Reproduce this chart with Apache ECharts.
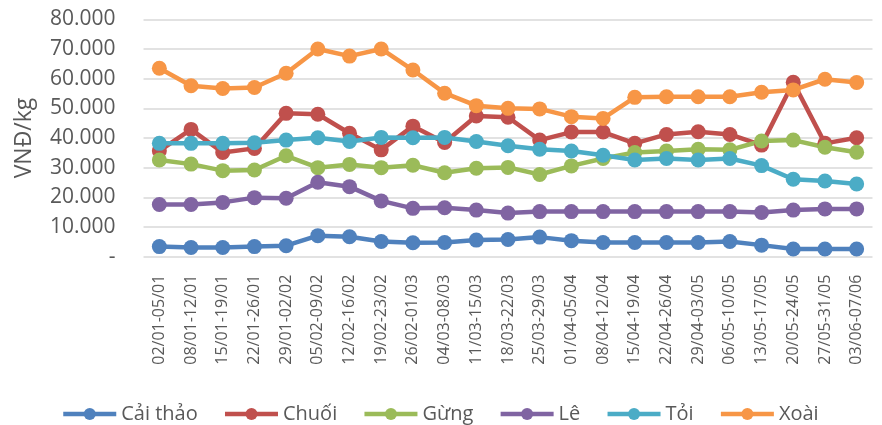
<!DOCTYPE html>
<html>
<head>
<meta charset="utf-8">
<script src="https://cdn.jsdelivr.net/npm/echarts@6/dist/echarts.min.js"></script>
<style>html,body{margin:0;padding:0;background:#fff}#c{width:882px;height:425px}</style>
</head>
<body>
<div id="c"></div>
<script>
const categories = ['02/01-05/01','08/01-12/01','15/01-19/01','22/01-26/01','29/01-02/02','05/02-09/02','12/02-16/02','19/02-23/02','26/02-01/03','04/03-08/03','11/03-15/03','18/03-22/03','25/03-29/03','01/04-05/04','08/04-12/04','15/04-19/04','22/04-26/04','29/04-03/05','06/05-10/05','13/05-17/05','20/05-24/05','27/05-31/05','03/06-07/06'];
const caiThao = [3400,3100,3100,3400,3700,7100,6700,5100,4700,4800,5600,5800,6600,5400,4800,4800,4800,4800,5100,3900,2600,2600,2600];
const chuoi = [35700,42900,35100,36500,48300,48000,41600,36000,44000,38500,47400,47000,39300,42000,42000,38200,41200,42100,41200,37600,58800,38200,40100];
const gung = [32600,31200,29000,29200,34000,30000,31100,30000,30800,28300,29800,30100,27700,30600,33100,35100,35600,36200,36000,39000,39300,36900,35200];
const le = [17600,17600,18300,19900,19700,25100,23600,18800,16300,16500,15700,14700,15200,15200,15200,15200,15200,15200,15200,14900,15700,16100,16100];
const toi = [38200,38200,38200,38400,39300,40100,38800,40200,40100,40200,38800,37400,36200,35600,34200,32600,33100,32600,33100,30700,26100,25500,24500];
const xoai = [63500,57600,56700,57000,61800,70000,67600,70000,62900,55100,50900,50000,49800,47200,46600,53700,53900,53900,53900,55400,56200,59800,58700];
const seriesNames = ['Cải thảo','Chuối','Gừng','Lê','Tỏi','Xoài'];
const seriesData = [caiThao, chuoi, gung, le, toi, xoai];
const colors = ['#4F81BD','#C0504D','#9BBB59','#8064A2','#4BACC6','#F79646'];
const yTicks = {min: 0, max: 80000, interval: 10000};

const FONT = '"Open Sans", sans-serif';
const chart = echarts.init(document.getElementById('c'), null, {renderer: 'canvas'});
chart.setOption({
  animation: false,
  color: colors,
  textStyle: {fontFamily: FONT, color: '#595959'},
  grid: {left: 143.5, right: 9.5, top: 19.3, bottom: 168.3},
  legend: {
    left: 56, top: 399,
    itemWidth: 53, itemHeight: 15, itemGap: 25,
    lineStyle: {width: 4.5},
    textStyle: {fontFamily: FONT, fontSize: 20, color: '#595959'},
    data: seriesNames
  },
  xAxis: {
    type: 'category',
    data: categories,
    boundaryGap: true,
    axisLine: {show: false},
    axisTick: {show: false},
    axisLabel: {rotate: 90, margin: 18, fontSize: 16, color: '#595959', fontFamily: FONT, interval: 0}
  },
  yAxis: {
    type: 'value',
    min: yTicks.min, max: yTicks.max, interval: yTicks.interval,
    name: 'VNĐ/kg',
    nameLocation: 'middle',
    nameGap: 108,
    nameRotate: 90,
    nameTextStyle: {fontSize: 23, color: '#595959', fontFamily: FONT},
    axisLine: {show: false},
    axisTick: {show: false},
    splitLine: {lineStyle: {color: '#D9D9D9', width: 1.5}},
    axisLabel: {
      margin: 28, fontSize: 21, color: '#595959', fontFamily: FONT,
      formatter: v => v === 0 ? '-' : v.toLocaleString('de-DE')
    }
  },
  series: seriesNames.map((n, i) => ({
    name: n,
    type: 'line',
    data: seriesData[i],
    symbol: 'circle',
    symbolSize: 15,
    lineStyle: {width: 4.5, color: colors[i]},
    itemStyle: {color: colors[i]}
  }))
});
</script>
</body>
</html>
